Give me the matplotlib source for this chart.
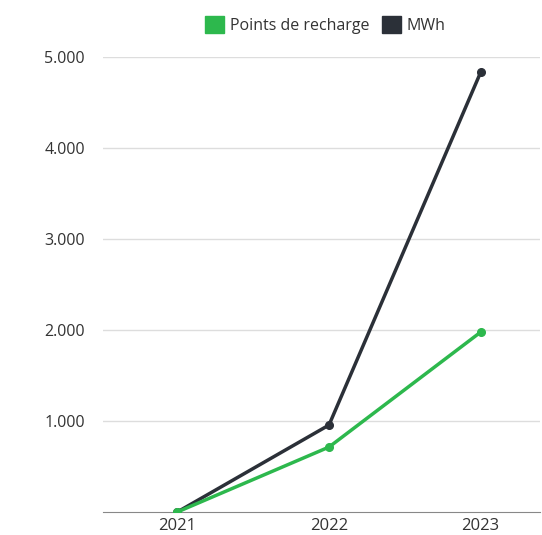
import matplotlib
matplotlib.use("Agg")
import matplotlib.pyplot as plt
from matplotlib.patches import Patch

years = [2021, 2022, 2023]
points_recharge = [0, 714, 1978]
mwh = [0, 956, 4835]
yticks = [1000, 2000, 3000, 4000, 5000]
ytick_labels = ["1.000", "2.000", "3.000", "4.000", "5.000"]

green = "#2db84d"
dark = "#2b3038"

plt.rcParams["font.family"] = ["Open Sans", "DejaVu Sans"]

fig = plt.figure(figsize=(5.42, 5.35), dpi=100)
ax = fig.add_axes([0.19, 0.043, 0.806, 0.85])

ax.plot(years, mwh, color=dark, lw=2.5, marker="o", ms=5.5, zorder=3)
ax.plot(years, points_recharge, color=green, lw=2.5, marker="o", ms=5.5, zorder=4)

ax.set_xlim(2020.51, 2023.39)
ax.set_ylim(0, 5000)
ax.set_xticks(years)
ax.set_xticklabels([str(y) for y in years])
ax.set_yticks(yticks)
ax.set_yticklabels(ytick_labels)
ax.grid(axis="y", color="#dddddd", lw=1)
ax.set_axisbelow(True)
for s in ["top", "right", "left"]:
    ax.spines[s].set_visible(False)
ax.spines["bottom"].set_color("#888888")
ax.tick_params(axis="both", length=0, colors="#333333")
ax.tick_params(axis="y", pad=13, labelsize=11.5)
ax.tick_params(axis="x", pad=4, labelsize=12)

handles = [Patch(color=green, label="Points de recharge"), Patch(color=dark, label="MWh")]
fig.legend(handles=handles, loc="center", bbox_to_anchor=(0.60, 0.953), ncol=2,
           frameon=False, fontsize=11.5, handlelength=1.2, handleheight=1.2,
           handletextpad=0.35, columnspacing=0.8, labelcolor="#333333")

fig.savefig("out.png", dpi=100, facecolor="white")
